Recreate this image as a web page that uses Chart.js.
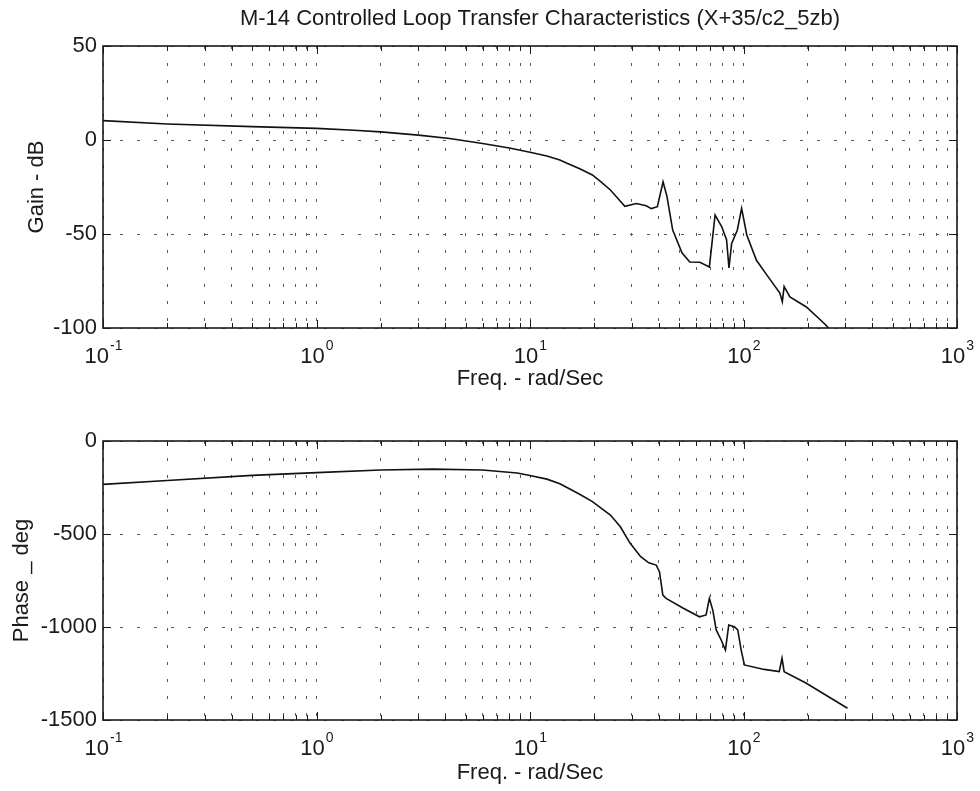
<!DOCTYPE html>
<html><head><meta charset="utf-8">
<script src="https://cdn.jsdelivr.net/npm/chart.js@4.4.0/dist/chart.umd.min.js"></script>
<style>
html,body{margin:0;padding:0;background:#fff;}
#wrap{position:relative;width:980px;height:791px;overflow:hidden;}
.c{position:absolute;left:0;width:980px;}
</style></head><body>
<div id="wrap">
<div class="c" style="top:0;height:400px"><canvas id="gain"></canvas></div>
<div class="c" style="top:400px;height:391px"><canvas id="phase"></canvas></div>
</div>
<script>
const titleText = 'M-14 Controlled Loop Transfer Characteristics (X+35/c2_5zb)';
const xTitle = 'Freq. - rad/Sec';
const gainTitle = 'Gain - dB';
const phaseTitle = 'Phase _ deg';

const decadeValues = [0.1, 1, 10, 100, 1000];
const decadeExponents = ['-1', '0', '1', '2', '3'];
const minorMultipliers = [2, 3, 4, 5, 6, 7, 8, 9];
const gainTicks = [-100, -50, 0, 50];
const phaseTicks = [-1500, -1000, -500, 0];

const gainFreq = [0.1, 0.2, 0.5, 1, 1.5, 2, 3, 4.2, 6, 8, 10, 12, 13.8, 14.9, 17, 19.6, 21.5, 23.8, 26, 27.8, 31.5, 35, 37, 39.5, 42, 43.8, 46.6, 51.5, 56, 62.5, 69.2, 73.6, 79, 83.3, 85.5, 88, 93.5, 98, 103.6, 115, 129, 148, 152, 155, 165, 197, 241, 250];
const gainDb = [10.3, 8.5, 7.1, 6.2, 5.2, 4.3, 2.6, 0.8, -1.9, -4.3, -6.5, -8.5, -10.6, -12.4, -15.2, -18.6, -22.3, -26.6, -31.5, -35.3, -33.8, -35, -36.5, -35.5, -22.3, -30, -47.9, -60, -64.9, -65, -67.5, -39.9, -46, -53, -68, -55, -48, -36.4, -50.5, -64, -72, -81.4, -86, -78, -83.5, -88.8, -98, -100];

const phaseFreq = [0.1, 0.2, 0.5, 1, 2, 3.5, 6, 8.7, 10, 12, 13.8, 14.9, 17, 19.6, 23.8, 26.5, 29.4, 33, 36, 39, 40.4, 41.9, 43.4, 52, 62.2, 66.8, 69.2, 71.8, 74.5, 78.6, 82.3, 85.3, 90.6, 94, 97.5, 101, 125, 147, 151.5, 155, 196, 307];
const phaseDeg = [-233, -212, -185, -170, -156, -151, -156, -172, -185, -205, -230, -250, -285, -326, -398, -461, -549, -622, -655, -667, -703, -828, -846, -898, -945, -935, -846, -909, -1016, -1070, -1124, -989, -998, -1016, -1124, -1204, -1228, -1240, -1168, -1240, -1301, -1437];

const xGridValues = [];
decadeValues.forEach((d, i) => {
  xGridValues.push(d);
  if (i < decadeValues.length - 1) minorMultipliers.forEach(m => xGridValues.push(+(d * m).toPrecision(6)));
});

const FONT = "'Liberation Sans', Arial, Helvetica, sans-serif";
const INK = '#1a1a1a';
Chart.defaults.font.family = FONT;
Chart.defaults.color = INK;

const framePlugin = {
  id: 'frame',
  afterDatasetsDraw(chart, args, opts) {
    const {ctx, chartArea: a, scales: {x, y}} = chart;
    ctx.save();
    ctx.strokeStyle = INK;
    ctx.lineWidth = 1;
    ctx.beginPath();
    xGridValues.forEach(v => {
      const px = Math.round(x.getPixelForValue(v)) + 0.5;
      const len = decadeValues.includes(v) ? 8 : 5;
      ctx.moveTo(px, a.bottom); ctx.lineTo(px, a.bottom - len);
      ctx.moveTo(px, a.top); ctx.lineTo(px, a.top + len);
    });
    y.ticks.forEach(t => {
      const py = Math.round(y.getPixelForValue(t.value)) + 0.5;
      ctx.moveTo(a.left, py); ctx.lineTo(a.left + 8, py);
      ctx.moveTo(a.right, py); ctx.lineTo(a.right - 8, py);
    });
    ctx.stroke();
    ctx.lineWidth = 1.6;
    ctx.strokeRect(a.left, a.top, a.right - a.left, a.bottom - a.top);

    // decade labels with superscript exponents
    ctx.fillStyle = INK;
    ctx.textBaseline = 'middle';
    ctx.textAlign = 'left';
    decadeValues.forEach((v, i) => {
      const px = x.getPixelForValue(v);
      ctx.font = '22px ' + FONT;
      const wb = ctx.measureText('10').width;
      ctx.font = '14px ' + FONT;
      const we = ctx.measureText(decadeExponents[i]).width;
      const sx = px - (wb + we) / 2;
      ctx.font = '22px ' + FONT;
      ctx.fillText('10', sx, a.bottom + 29);
      ctx.font = '14px ' + FONT;
      ctx.fillText(decadeExponents[i], sx + wb + 1, a.bottom + 18);
    });

    if (opts && opts.title) {
      ctx.font = '22px ' + FONT;
      ctx.textAlign = 'center';
      ctx.fillText(opts.title, 540, 19);
    }
    ctx.restore();
  }
};

function makeChart(id, xs, ys, yTicks, yTitle, cfg) {
  const pts = xs.map((f, i) => ({x: f, y: ys[i]}));
  return new Chart(document.getElementById(id), {
    type: 'scatter',
    data: {datasets: [{
      data: pts, showLine: true, borderColor: '#111', borderWidth: 1.6,
      pointRadius: 0, pointHoverRadius: 0, tension: 0, fill: false
    }]},
    options: {
      responsive: true, maintainAspectRatio: false, animation: false,
      layout: {padding: {top: cfg.padTop, right: 23, left: 0, bottom: 0}},
      events: [],
      plugins: {legend: {display: false}, tooltip: {enabled: false}, frame: {title: cfg.title}},
      scales: {
        x: {
          type: 'logarithmic', min: 0.1, max: 1000,
          afterBuildTicks: s => { s.ticks = xGridValues.map(v => ({value: v})); },
          afterFit: s => { s.height = cfg.xHeight; },
          ticks: {display: false},
          grid: {color: '#5a5a5a', lineWidth: 1, drawTicks: false},
          border: {display: false, dash: [3, 14]},
          title: {display: true, text: xTitle, font: {size: 22}, color: INK, padding: {top: 0, bottom: cfg.xTitlePad}}
        },
        y: {
          min: yTicks[0], max: yTicks[yTicks.length - 1],
          afterBuildTicks: s => { s.ticks = yTicks.map(v => ({value: v})); },
          afterFit: s => { s.width = 103; },
          ticks: {font: {size: 22}, color: INK, padding: 6, callback: v => String(v)},
          grid: {color: '#5a5a5a', lineWidth: 1, drawTicks: false},
          border: {display: false, dash: [3, 14]},
          title: {display: true, text: yTitle, font: {size: 22}, color: INK, padding: {top: cfg.yTitlePad, bottom: 0}}
        }
      }
    },
    plugins: [framePlugin]
  });
}

makeChart('gain', gainFreq, gainDb, gainTicks, gainTitle, {padTop: 46, xHeight: 72, xTitlePad: 8, yTitlePad: 24, title: titleText});
makeChart('phase', phaseFreq, phaseDeg, phaseTicks, phaseTitle, {padTop: 41, xHeight: 71, xTitlePad: 5, yTitlePad: 9, title: null});
</script>
</body></html>
